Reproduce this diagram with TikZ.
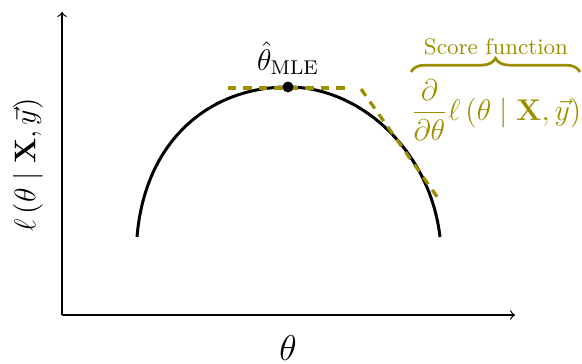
\documentclass[tikz,border=0pt]{standalone}
\usepackage{amsmath}
\usetikzlibrary{decorations.pathreplacing}
\definecolor{scorecol}{RGB}{155,143,0}
\tikzset{
  axis/.style={->,line width=0.5pt},
  curvestyle/.style={line width=1.2pt},
  tangent/.style={scorecol,line width=1.3pt,dash pattern=on 3.4pt off 2.8pt},
}
\begin{document}
\begin{tikzpicture}[x=0.4016pt,y=-0.4016pt]
\useasboundingbox (0,0) rectangle (582,364);
\coordinate (O) at (62,315);
\coordinate (ytop) at (62,12);
\coordinate (xend) at (515,315);
\draw[axis] (O) -- (ytop);
\draw[axis] (O) -- (xend);
\coordinate (L) at (137,237);
\coordinate (P) at (288,87);
\coordinate (R) at (440,237);
\draw[curvestyle] (L) .. controls (145,140) and (210,87) .. (P)
  .. controls (360,87) and (430,150) .. (R);
\coordinate (h1) at (228,88);
\coordinate (h2) at (349,88);
\coordinate (s1) at (361,89);
\coordinate (s2) at (438,198);
\draw[tangent] (h1) -- (h2);
\draw[tangent] (s1) -- (s2);
\fill (P) circle (2.2pt);
\node[anchor=south,inner sep=2pt] (mle) at (288,80) {\large$\hat{\theta}_{\mathrm{MLE}}$};
\node (xlab) at (288,348) {\Large$\theta$};
\node[rotate=90] (ylab) at (28,165) {\large$\ell\left(\theta \mid \mathbf{X},\vec{y}\right)$};
\node[scorecol] (score) at (496,110) {\large$\displaystyle\frac{\partial}{\partial\theta}\ell\left(\theta \mid \mathbf{X},\vec{y}\right)$};
\coordinate (b1) at (411,72);
\coordinate (b2) at (580,72);
\draw[scorecol,line width=1.1pt,decorate,decoration={brace,amplitude=5.5pt}] (b1) -- (b2);
\node[scorecol] (sflab) at (496,47) {\small Score function};
\end{tikzpicture}
\end{document}
